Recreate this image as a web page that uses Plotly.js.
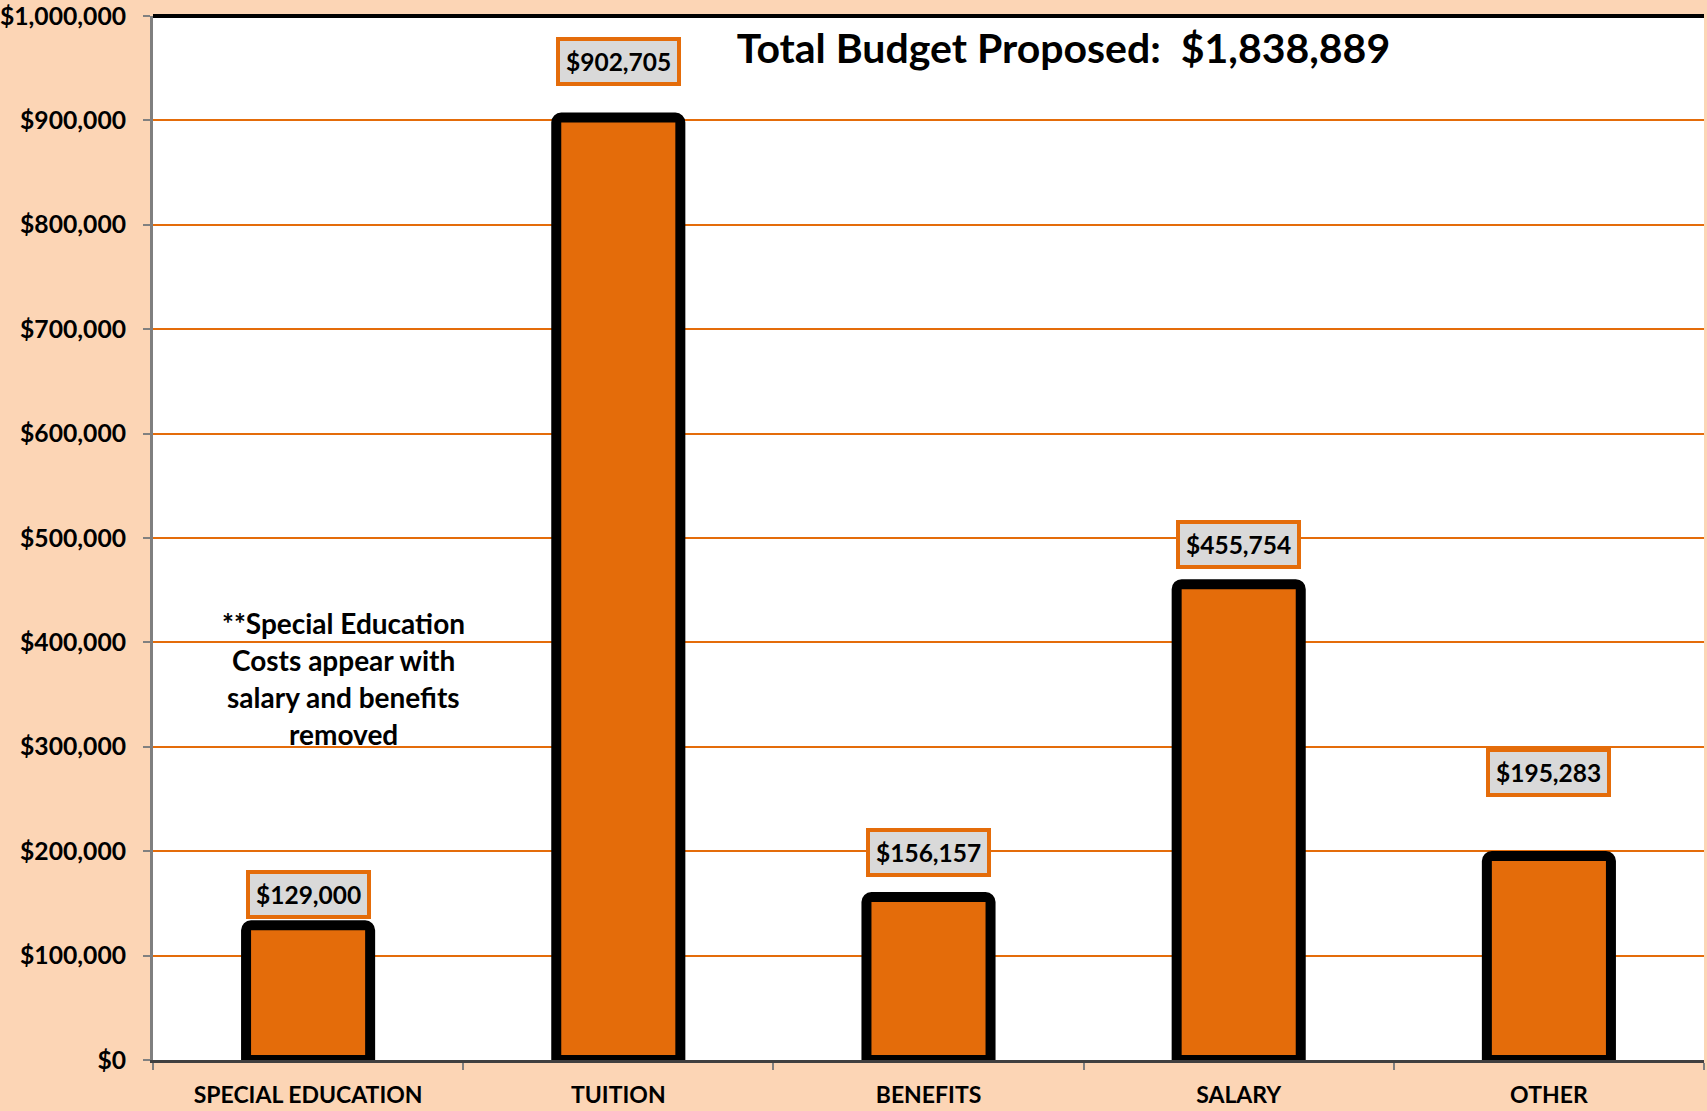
<!DOCTYPE html>
<html>
<head>
<meta charset="utf-8">
<script src="https://cdn.plot.ly/plotly-3.0.1.min.js"></script>
<style>html,body{margin:0;padding:0;background:#FCD5B5;}#chart{width:1707px;height:1111px;}</style>
</head>
<body>
<div id="chart"></div>
<script>
// ---- data ----
const categories = ["SPECIAL EDUCATION", "TUITION", "BENEFITS", "SALARY", "OTHER"];
const amounts = [129000, 902705, 156157, 455754, 195283];
const titleText = "Total Budget Proposed:\u00a0\u00a0$1,838,889";
const noteLines = ["**Special Education", "Costs appear with", "salary and benefits", "removed"];
const noteValue = 365000;
// label lift above bar top (px) - placement only
const labelLift = [31, 56, 44, 40, 84];

const fmt = v => "$" + v.toLocaleString("en-US");
const FONT = "Lato, 'Open Sans', sans-serif";
const ORANGE = "#E46C0A";

const trace = {
  type: "bar",
  x: categories,
  y: amounts,
  width: 0.4,
  marker: { color: ORANGE, line: { color: "#000000", width: 10 }, cornerradius: 5 },
  hoverinfo: "skip"
};

const annotations = amounts.map((v, i) => ({
  x: categories[i], y: v, xref: "x", yref: "y",
  text: fmt(v), showarrow: false,
  yanchor: "middle", xanchor: "center", yshift: labelLift[i],
  font: { family: FONT, size: 24.5, color: "#000000", weight: "bold" },
  bgcolor: "#D9D9D9", bordercolor: ORANGE, borderwidth: 4, borderpad: 6
}));

noteLines.forEach((t, i) => {
  annotations.push({
    x: categories[0], y: noteValue, xref: "x", yref: "y",
    text: t, showarrow: false, xanchor: "center", yanchor: "middle",
    xshift: 35, yshift: (1.5 - i) * 37,
    font: { family: FONT, size: 28, color: "#000000", weight: "bold" }
  });
});

const layout = {
  width: 1707, height: 1111,
  margin: { l: 153, r: 3, t: 16, b: 51, pad: 0 },
  paper_bgcolor: "#FCD5B5",
  plot_bgcolor: "#FFFFFF",
  showlegend: false,
  title: {
    text: titleText, xref: "container", x: 0.623, xanchor: "center",
    yref: "container", y: 0.956, yanchor: "middle",
    font: { family: FONT, size: 41, color: "#000000", weight: "bold" }
  },
  xaxis: {
    type: "category",
    showline: true, linecolor: "#404040", linewidth: 3,
    ticks: "outside", tickson: "boundaries", ticklen: 7, tickwidth: 2, tickcolor: "#808080",
    tickfont: { family: FONT, size: 23, color: "#000000", weight: "bold" },
    ticklabelstandoff: 12,
    showgrid: false, zeroline: false, fixedrange: true
  },
  yaxis: {
    range: [0, 1000000], dtick: 100000, tick0: 0,
    tickprefix: "$", tickformat: ",d",
    showline: true, linecolor: "#7F7F7F", linewidth: 3,
    ticks: "outside", ticklen: 7, tickwidth: 2, tickcolor: "#808080",
    tickfont: { family: FONT, size: 24.7, color: "#000000", weight: "bold" },
    ticklabelstandoff: 12,
    showgrid: true, gridcolor: ORANGE, gridwidth: 2,
    zeroline: false, fixedrange: true
  },
  shapes: [{
    type: "line", xref: "paper", yref: "paper", x0: 0, x1: 1, y0: 1, y1: 1,
    line: { color: "#000000", width: 4 }
  }],
  annotations: annotations
};

Plotly.newPlot("chart", [trace], layout, { displayModeBar: false, staticPlot: true });
</script>
</body>
</html>
